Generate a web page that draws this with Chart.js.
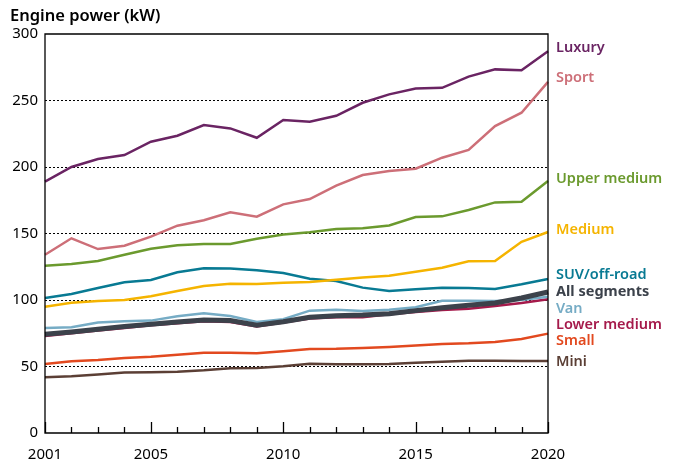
<!DOCTYPE html>
<html>
<head>
<meta charset="utf-8">
<script src="https://cdn.jsdelivr.net/npm/chart.js@4/dist/chart.umd.min.js"></script>
<style>
  html, body { margin: 0; padding: 0; background: #fff; }
  #wrap { width: 673px; height: 459px; }
</style>
</head>
<body>
<div id="wrap"><canvas id="grafico" width="673" height="459"></canvas></div>
<script>
// años y potencia media (kW) por segmento
const years = [2001, 2002, 2003, 2004, 2005, 2006, 2007, 2008, 2009, 2010,
  2011, 2012, 2013, 2014, 2015, 2016, 2017, 2018, 2019, 2020];
const yearLabels = [2001, 2005, 2010, 2015, 2020];
const yTicks = [0, 50, 100, 150, 200, 250, 300];

const luxury = [189, 200, 206, 209, 219, 223.5, 231.5, 229, 222, 235.3, 234, 238.5, 248.3, 254.6, 259, 259.5, 268, 273.4, 272.7, 287];
const sport = [134, 146.4, 138.3, 140.8, 147.6, 155.9, 160, 165.9, 162.6, 171.9, 175.9, 186, 194, 197, 198.7, 207, 212.8, 230.8, 240.8, 264];
const upperMedium = [125.8, 127, 129.3, 134, 138.6, 141.1, 142.1, 142.1, 146.1, 149.3, 150.9, 153.4, 154, 156, 162.4, 162.9, 167.7, 173.4, 173.9, 189.5];
const medium = [95, 98, 99.2, 100, 102.8, 106.8, 110.5, 112.3, 112, 113, 113.5, 115.3, 117, 118.3, 121.3, 124.3, 129.1, 129.3, 143.8, 151.1];
const suv = [101.5, 104.5, 109, 113.3, 115, 120.8, 123.8, 123.6, 122.3, 120.3, 116, 114.3, 109.3, 106.8, 108, 109.3, 109, 108.3, 111.8, 115.8];
const allSegments = [74.2, 76, 78, 80, 81.7, 83.5, 85, 84.5, 81, 83.7, 87, 88.2, 88.7, 89.7, 92, 94.2, 96, 97.7, 101.5, 106];
const van = [79, 79.5, 83, 84, 84.5, 87.7, 90, 88, 83.5, 85.5, 92, 92.7, 91.7, 92.7, 94.5, 99.5, 99.5, 99.2, 100, 102.5];
const lowerMedium = [73, 75, 77, 79, 81, 82.5, 84, 83.5, 80, 83, 86, 87, 87, 89.2, 91, 92.5, 93.5, 95.5, 97.7, 100.5];
const small = [51.9, 53.9, 54.9, 56.4, 57.4, 58.9, 60.4, 60.4, 59.9, 61.4, 63.2, 63.3, 63.9, 64.7, 65.7, 66.9, 67.4, 68.4, 70.7, 74.7];
const mini = [41.9, 42.6, 43.9, 45.4, 45.6, 46.1, 47.1, 48.6, 48.8, 50.1, 52.1, 51.6, 51.6, 51.8, 52.9, 53.6, 54.3, 54.3, 54.2, 54.1];

// nombre, datos, color, desplazamiento vertical de la etiqueta final
const series = [
  ["All segments", allSegments, "#3c424b", 0],
  ["Luxury", luxury, "#6a2463", -3],
  ["Sport", sport, "#cd6f78", -4],
  ["Upper medium", upperMedium, "#6b9a2e", -2],
  ["Medium", medium, "#f5b400", -2],
  ["SUV/off-road", suv, "#087a93", -4],
  ["Van", van, "#76acc5", 12],
  ["Lower medium", lowerMedium, "#a51a4b", 26],
  ["Small", small, "#e2491f", 7],
  ["Mini", mini, "#5b3f35", 1]
];

const fuente = "'Noto Sans', 'Open Sans', sans-serif";

const datasets = series.map(([nombre, datos, color, desplazamiento]) => ({
  label: nombre,
  data: datos,
  borderColor: color,
  backgroundColor: color,
  borderWidth: nombre === "All segments" ? 5 : 2.5,
  pointRadius: 0,
  tension: 0,
  order: nombre === "All segments" ? 0 : 1,
  desplazamiento: desplazamiento
}));

// marco, marcas del eje x hacia dentro, título y etiquetas al final de cada línea
const extras = {
  id: "extras",
  afterDatasetsDraw(chart) {
    const { ctx, chartArea: a, scales } = chart;
    ctx.save();
    ctx.strokeStyle = "#000";
    ctx.lineWidth = 1.3;
    ctx.beginPath();
    ctx.moveTo(a.left, a.top);
    ctx.lineTo(a.right, a.top);
    ctx.lineTo(a.right, a.bottom);
    ctx.lineTo(a.left, a.bottom);
    ctx.closePath();
    ctx.stroke();

    years.forEach((y, i) => {
      const x = scales.x.getPixelForValue(i);
      const largo = yearLabels.includes(y) ? 11 : 6;
      ctx.beginPath();
      ctx.moveTo(Math.round(x) + 0.5, a.bottom);
      ctx.lineTo(Math.round(x) + 0.5, a.bottom - largo);
      ctx.stroke();
    });

    ctx.fillStyle = "#000";
    ctx.font = "600 16.5px " + fuente;
    ctx.textBaseline = "middle";
    ctx.textAlign = "left";
    ctx.fillText("Engine power (kW)", 10, 16);

    chart.data.datasets.forEach((ds) => {
      const ultimo = ds.data[ds.data.length - 1];
      const y = scales.y.getPixelForValue(ultimo) + ds.desplazamiento;
      ctx.fillStyle = ds.borderColor;
      ctx.font = (ds.label === "All segments" ? "700" : "600") + " 14.5px " + fuente;
      ctx.fillText(ds.label, a.right + 8, y);
    });
    ctx.restore();
  }
};

new Chart(document.getElementById("grafico"), {
  type: "line",
  data: { labels: years, datasets: datasets },
  options: {
    responsive: false,
    animation: false,
    layout: { padding: { left: 0, right: 125, top: 34, bottom: 0 } },
    plugins: { legend: { display: false }, tooltip: { enabled: false } },
    scales: {
      x: {
        offset: false,
        grid: { display: false },
        border: { display: false },
        ticks: {
          autoSkip: false,
          maxRotation: 0,
          padding: 5,
          color: "#000",
          font: { family: fuente, size: 15 },
          callback: (v, i) => yearLabels.includes(years[i]) ? String(years[i]) : ""
        },
        afterFit: (s) => { s.height = 26; }
      },
      y: {
        min: 0,
        max: 300,
        afterBuildTicks: (s) => { s.ticks = yTicks.map((v) => ({ value: v })); },
        grid: {
          drawTicks: false,
          lineWidth: 1,
          color: (c) => (c.tick.value === 0 || c.tick.value === 300) ? "rgba(0,0,0,0)" : "#000"
        },
        border: { display: false, dash: [2, 2] },
        ticks: {
          padding: 7,
          color: "#000",
          font: { family: fuente, size: 15 }
        },
        afterFit: (s) => { s.width = 45; }
      }
    }
  },
  plugins: [extras]
});
</script>
</body>
</html>
